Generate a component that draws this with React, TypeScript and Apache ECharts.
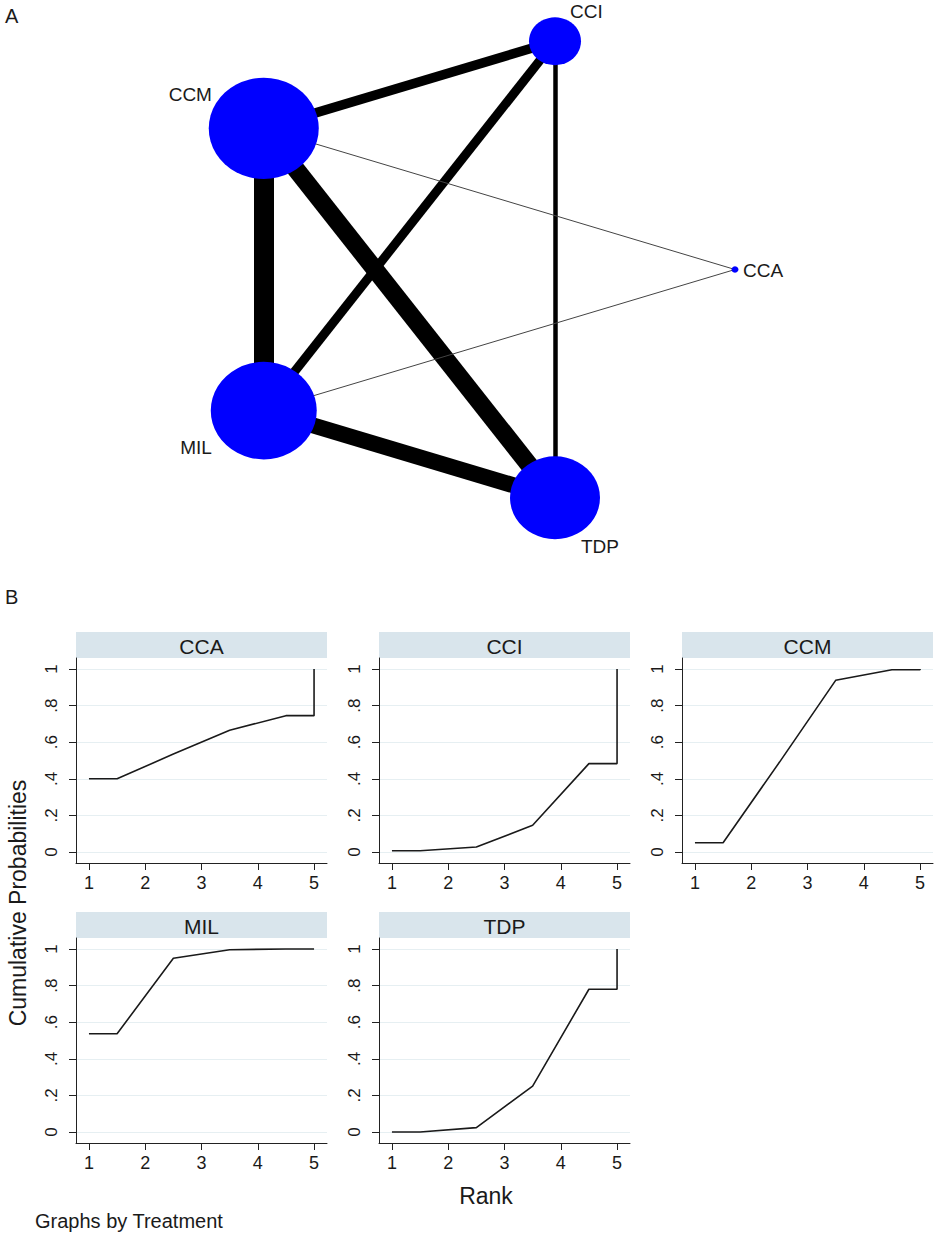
import React, { useEffect, useRef } from "react";
import * as echarts from "echarts";

// ---------- Panel B data (cumulative ranking probabilities) ----------
const treatments = ["CCA", "CCI", "CCM", "MIL", "TDP"];
const rankX = [1, 1.5, 2.5, 3.5, 4.5, 5, 5];
const cumCCA = [0.4, 0.4, 0.535, 0.665, 0.745, 0.745, 1.0];
const cumCCI = [0.007, 0.007, 0.027, 0.146, 0.483, 0.483, 1.0];
const cumCCM = [0.051, 0.051, 0.49, 0.938, 0.996, 0.996, 1.0];
const cumMIL = [0.537, 0.537, 0.949, 0.996, 1.0, 1.0, 1.0];
const cumTDP = [0.0, 0.0, 0.024, 0.251, 0.78, 0.78, 1.0];
const xTicks = [1, 2, 3, 4, 5];
const yTicks = [0, 0.2, 0.4, 0.6, 0.8, 1];
const yTickLabels = ["0", ".2", ".4", ".6", ".8", "1"];

// ---------- Panel A data (network) ----------
const nodeNames = ["CCA", "CCI", "CCM", "MIL", "TDP"];
const nodeX = [1, 0.309, -0.809, -0.809, 0.309];
const nodeY = [0, 0.951, 0.588, -0.588, -0.951];
const nodeWeight = [7, 52, 110, 106, 90];
const edgeFrom = ["CCM", "CCM", "MIL", "CCM", "CCI", "CCI", "CCM", "MIL"];
const edgeTo = ["MIL", "TDP", "TDP", "CCI", "MIL", "TDP", "CCA", "CCA"];
const edgeWeight = [20, 18, 16, 9.5, 9, 4.5, 1, 1];

const FONT = "'Liberation Sans', Arial, Helvetica, sans-serif";
const TXT = "#1a1a1a";

export default function App() {
  const ref = useRef<HTMLDivElement>(null);

  useEffect(() => {
    if (!ref.current) return;
    const chart = echarts.init(ref.current, undefined, { renderer: "svg" });

    const cums = [cumCCA, cumCCI, cumCCM, cumMIL, cumTDP];
    const colLeft = [76, 379, 682];
    const rowTop = [658, 938];
    const gridW = 251;
    const gridH = 205;
    const stripH = 26;

    const series: any[] = [];
    const grids: any[] = [];
    const xAxes: any[] = [];
    const yAxes: any[] = [];
    const graphics: any[] = [];

    treatments.forEach((t, i) => {
      const col = i % 3;
      const row = Math.floor(i / 3);
      const left = colLeft[col];
      const top = rowTop[row];
      grids.push({ left, top, width: gridW, height: gridH, containLabel: false });
      xAxes.push({
        type: "value",
        gridIndex: i,
        min: 0.77,
        max: 5.23,
        axisLine: { show: true, onZero: false, lineStyle: { color: "#222", width: 1 } },
        axisTick: { show: true, length: 7, customValues: xTicks, lineStyle: { color: "#222" } },
        axisLabel: {
          show: true,
          customValues: xTicks,
          fontSize: 18,
          fontFamily: FONT,
          color: TXT,
          margin: 11,
          formatter: (v: number) => String(v),
        },
        splitLine: { show: false },
      });
      yAxes.push({
        type: "value",
        gridIndex: i,
        min: -0.06,
        max: 1.06,
        axisLine: { show: true, onZero: false, lineStyle: { color: "#222", width: 1 } },
        axisTick: { show: true, length: 7, customValues: yTicks, lineStyle: { color: "#222" } },
        axisLabel: {
          show: true,
          customValues: yTicks,
          rotate: 90,
          fontSize: 17,
          fontFamily: FONT,
          color: TXT,
          margin: 16,
          formatter: (v: number) => {
            let best = 0;
            yTicks.forEach((tv, k) => {
              if (Math.abs(tv - v) < Math.abs(yTicks[best] - v)) best = k;
            });
            return yTickLabels[best];
          },
        },
        splitLine: { show: true, lineStyle: { color: "#e6eff2", width: 1 } },
      });
      series.push({
        type: "line",
        xAxisIndex: i,
        yAxisIndex: i,
        data: rankX.map((x, j) => [x, cums[i][j]]),
        showSymbol: false,
        symbol: "none",
        silent: true,
        lineStyle: { color: "#1a1a1a", width: 1.6 },
        z: 3,
      });
      graphics.push({
        type: "rect",
        shape: { x: left, y: top - stripH, width: gridW, height: stripH },
        style: { fill: "#d9e5ec" },
        silent: true,
      });
      graphics.push({
        type: "text",
        x: left + gridW / 2,
        y: top - stripH / 2 + 1,
        style: {
          text: t,
          fontSize: 21,
          fontFamily: FONT,
          fill: TXT,
          align: "center",
          verticalAlign: "middle",
        },
        silent: true,
      });
    });

    // network grid
    const netIdx = treatments.length;
    grids.push({ left: 214, top: 29.5, width: 521, height: 480 });
    xAxes.push({ type: "value", gridIndex: netIdx, min: -1, max: 1, show: false });
    yAxes.push({ type: "value", gridIndex: netIdx, min: -1, max: 1, show: false });

    const labelPos: Record<string, any> = {
      CCA: { position: [11.5, 4.2], align: "left", verticalAlign: "middle" },
      CCI: { position: [41, -6], align: "left", verticalAlign: "middle" },
      CCM: { position: [3.2, 17], align: "right", verticalAlign: "middle" },
      MIL: { position: [1.2, 85.2], align: "right", verticalAlign: "middle" },
      TDP: { position: [71, 90.4], align: "left", verticalAlign: "middle" },
    };

    series.push({
      type: "graph",
      coordinateSystem: "cartesian2d",
      xAxisIndex: netIdx,
      yAxisIndex: netIdx,
      layout: "none",
      symbol: "circle",
      silent: true,
      emphasis: { disabled: true },
      itemStyle: { color: "#0000ff", opacity: 1 },
      label: { show: true, fontSize: 19, fontFamily: FONT, color: TXT },
      lineStyle: { opacity: 1, curveness: 0, color: "#000" },
      data: nodeNames.map((n, i) => ({
        name: n,
        value: [nodeX[i], nodeY[i]],
        symbolSize: [nodeWeight[i], nodeWeight[i] * 0.92],
        label: { show: true, ...labelPos[n] },
      })),
      links: edgeFrom.map((s, i) => ({
        source: s,
        target: edgeTo[i],
        lineStyle: {
          width: edgeWeight[i],
          color: edgeWeight[i] <= 1 ? "#444" : "#000",
          opacity: 1,
        },
      })),
    });

    graphics.push(
      {
        type: "text",
        x: 5,
        y: 16,
        style: { text: "A", fontSize: 20, fontFamily: FONT, fill: TXT, align: "left", verticalAlign: "middle" },
        silent: true,
      },
      {
        type: "text",
        x: 5,
        y: 597,
        style: { text: "B", fontSize: 20, fontFamily: FONT, fill: TXT, align: "left", verticalAlign: "middle" },
        silent: true,
      },
      {
        type: "text",
        x: 18,
        y: 903,
        rotation: Math.PI / 2,
        style: {
          text: "Cumulative Probabilities",
          fontSize: 23,
          fontFamily: FONT,
          fill: TXT,
          align: "center",
          verticalAlign: "middle",
        },
        silent: true,
      },
      {
        type: "text",
        x: 486,
        y: 1196,
        style: { text: "Rank", fontSize: 23, fontFamily: FONT, fill: TXT, align: "center", verticalAlign: "middle" },
        silent: true,
      },
      {
        type: "text",
        x: 35,
        y: 1221,
        style: {
          text: "Graphs by Treatment",
          fontSize: 20,
          fontFamily: FONT,
          fill: TXT,
          align: "left",
          verticalAlign: "middle",
        },
        silent: true,
      }
    );

    chart.setOption({
      animation: false,
      backgroundColor: "#ffffff",
      grid: grids,
      xAxis: xAxes,
      yAxis: yAxes,
      series,
      graphic: graphics,
    });

    return () => {
      chart.dispose();
    };
  }, []);

  return (
    <div
      ref={ref}
      style={{ position: "absolute", left: 0, top: 0, width: 942, height: 1234, background: "#fff" }}
    />
  );
}
